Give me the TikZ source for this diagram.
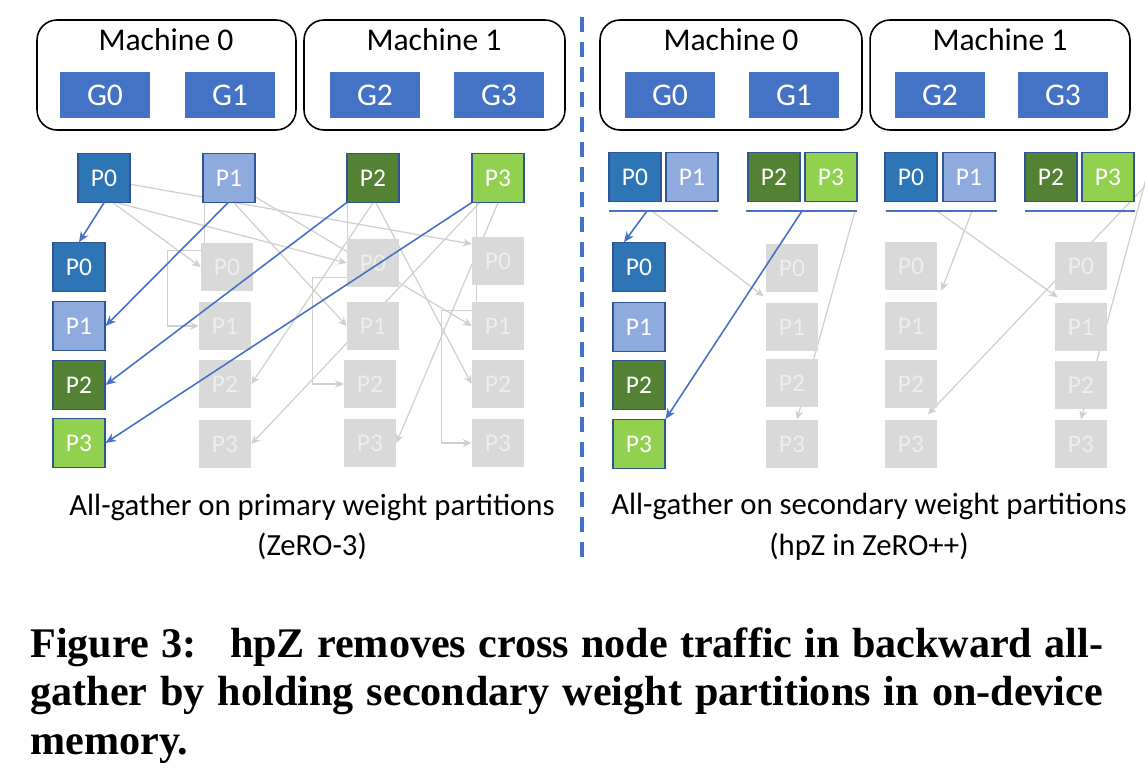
\documentclass[tikz,border=0pt]{standalone}
\usepackage{fontspec}
\setsansfont{Carlito}
\newfontfamily\capfont{Liberation Serif}
\usetikzlibrary{calc,arrows.meta}
\pgfdeclarelayer{bg}
\pgfsetlayers{bg,main}
\definecolor{gpublue}{HTML}{4472C4}
\definecolor{pzero}{HTML}{2E75B6}
\definecolor{pone}{HTML}{8FAADC}
\definecolor{ptwo}{HTML}{548235}
\definecolor{pthree}{HTML}{92D050}
\definecolor{pedge}{HTML}{2F5597}
\definecolor{ghost}{HTML}{D9D9D9}
\definecolor{ghosttext}{HTML}{EEEEEE}
\definecolor{linegray}{HTML}{CFCFCF}

\begin{document}
\begin{tikzpicture}[x=0.02cm, y=-0.02cm, font=\sffamily,
	machine/.style={draw, rounded corners=0.4cm, line width=0.9pt, minimum height=2.2cm, inner sep=0},
	mlabel/.style={font=\sffamily\fontsize{18}{18}\selectfont, inner sep=0},
	gpu/.style={fill=gpublue, text=white, minimum width=1.8cm, minimum height=0.94cm, inner sep=0, font=\sffamily\fontsize{18}{18}\selectfont},
	part/.style={draw=pedge, line width=0.6pt, text=white, minimum width=1.04cm, minimum height=0.97cm, inner sep=0, font=\sffamily\fontsize{14.5}{14.5}\selectfont},
	pa/.style={part, fill=pzero},
	pb/.style={part, fill=pone},
	pc/.style={part, fill=ptwo},
	pd/.style={part, fill=pthree},
	shade/.style={fill=ghost, text=ghosttext, minimum width=1.04cm, minimum height=0.97cm, inner sep=0, font=\sffamily\fontsize{14.5}{14.5}\selectfont},
	bluesend/.style={gpublue, line width=0.9pt, -{Stealth[length=6pt,width=5pt]}},
	graysend/.style={linegray, line width=0.7pt, -{Stealth[length=5pt,width=4.5pt]}},
	uline/.style={gpublue, line width=0.9pt},
	subcap/.style={align=center, inner sep=0, font=\sffamily\fontsize{17.5}{23}\selectfont}
	]
	\useasboundingbox (0,0) rectangle (1145,770);
	
	% machines, left half
	\node[machine, minimum width=5.18cm] (lm0) at (166.5,75) {};
	\node[machine, minimum width=5.22cm] (lm1) at (434.5,75) {};
	\node[mlabel] (lm0t) at (166,40) {Machine 0};
	\node[mlabel] (lm1t) at (434,40) {Machine 1};
	\node[gpu] (lg0) at (105,95) {G0};
	\node[gpu] (lg1) at (230,95) {G1};
	\node[gpu] (lg2) at (375,95) {G2};
	\node[gpu] (lg3) at (499,95) {G3};
	
	% machines, right half
	\node[machine, minimum width=5.24cm] (rm0) at (731,75) {};
	\node[machine, minimum width=5.2cm] (rm1) at (1000,75) {};
	\node[mlabel] (rm0t) at (731,40) {Machine 0};
	\node[mlabel] (rm1t) at (1000,40) {Machine 1};
	\node[gpu] (rg0) at (670,95) {G0};
	\node[gpu] (rg1) at (794,95) {G1};
	\node[gpu] (rg2) at (940,95) {G2};
	\node[gpu] (rg3) at (1063,95) {G3};
	
	% primary partitions
	\node[pa] (lt0) at (104,178) {P0};
	\node[pb] (lt1) at (229,178) {P1};
	\node[pc] (lt2) at (373,178) {P2};
	\node[pd] (lt3) at (498,178) {P3};
	
	\node[pa] (l00) at (79,267) {P0};
	\node[pb] (l01) at (79,326) {P1};
	\node[pc] (l02) at (79,385) {P2};
	\node[pd] (l03) at (79,443) {P3};
	\node[shade] (l10) at (227,267) {P0};
	\node[shade] (l11) at (225,326) {P1};
	\node[shade] (l12) at (225,384) {P2};
	\node[shade] (l13) at (225,444) {P3};
	\node[shade] (l20) at (373,263) {P0};
	\node[shade] (l21) at (373,326) {P1};
	\node[shade] (l22) at (370,384) {P2};
	\node[shade] (l23) at (370,443) {P3};
	\node[shade] (l30) at (498,261) {P0};
	\node[shade] (l31) at (498,326) {P1};
	\node[shade] (l32) at (498,384) {P2};
	\node[shade] (l33) at (498,443) {P3};
	
	% secondary partitions
	\node[pa] (ra0) at (635,177) {P0};
	\node[pb] (ra1) at (692,177) {P1};
	\node[pc] (ra2) at (774,177) {P2};
	\node[pd] (ra3) at (831,177) {P3};
	\node[pa] (rb0) at (911,177) {P0};
	\node[pb] (rb1) at (969,177) {P1};
	\node[pc] (rb2) at (1051,177) {P2};
	\node[pd] (rb3) at (1108,177) {P3};
	\coordinate (ua0) at (609,211); \coordinate (ua1) at (718,211);
	\coordinate (ub0) at (746,211); \coordinate (ub1) at (857,211);
	\coordinate (uc0) at (886,211); \coordinate (uc1) at (997,211);
	\coordinate (ud0) at (1025,211); \coordinate (ud1) at (1135,211);
	\draw[uline] (ua0) -- (ua1);
	\draw[uline] (ub0) -- (ub1);
	\draw[uline] (uc0) -- (uc1);
	\draw[uline] (ud0) -- (ud1);
	
	\node[pa] (r00) at (639,267) {P0};
	\node[pb] (r01) at (639,327) {P1};
	\node[pc] (r02) at (639,385) {P2};
	\node[pd] (r03) at (639,444) {P3};
	\node[shade] (r10) at (792,268) {P0};
	\node[shade] (r11) at (792,327) {P1};
	\node[shade] (r12) at (792,383) {P2};
	\node[shade] (r13) at (792,444) {P3};
	\node[shade] (r20) at (911,266) {P0};
	\node[shade] (r21) at (911,326) {P1};
	\node[shade] (r22) at (911,384) {P2};
	\node[shade] (r23) at (911,444) {P3};
	\node[shade] (r30) at (1081,266) {P0};
	\node[shade] (r31) at (1081,327) {P1};
	\node[shade] (r32) at (1081,385) {P2};
	\node[shade] (r33) at (1081,444) {P3};
	
	% divider
	\coordinate (dv0) at (582,17);
	\coordinate (dv1) at (582,562);
	\draw[gpublue, line width=2pt, dash pattern=on 0.3cm off 0.2cm] (dv0) -- (dv1);
	
	% grey traffic, behind the boxes
	\begin{pgfonlayer}{bg}
	\draw[graysend] ($(lt0.east)+(-8,5)$) -- ($(l30.west)+(0,-17)$);
	\draw[graysend] ($(lt0.south)+(9,0)$) -- (l10.west);
	\draw[graysend] ($(lt0.south)+(13,0)$) -- (l20.west);
	\draw[graysend] ($(lt1.south west)+(2,0)$) -- ++(0,48) -- ++(-37,0) |- (l11.west);
	\draw[graysend] ($(lt1.south)+(5,0)$) -- (l21.west);
	\draw[graysend] ($(lt1.east)+(0,19)$) -- (l31.west);
	\draw[graysend] (lt2.south) -- (l12.east);
	\draw[graysend] ($(lt2.south west)+(1,0)$) -- ++(0,75) -- ++(-35,0) |- (l22.west);
	\draw[graysend] ($(lt2.south)+(3,0)$) -- (l32.west);
	\draw[graysend] ($(lt3.south west)+(8,0)$) -- (l13.east);
	\draw[graysend] (lt3.south) -- (l23.east);
	\draw[graysend] ($(lt3.south west)+(5,0)$) -- ++(0,108) -- ++(-35,0) |- (l33.west);
	
	\coordinate (xa) at (1150,181);
	\coordinate (xb) at (1147,175);
	\draw[graysend] ($(ua0)+(43,0)$) -- ($(r11.north west)+(-2,-6)$);
	\draw[graysend] ($(ub1)+(-2,0)$) -- ($(r13.north)+(5,0)$);
	\draw[graysend] ($(uc0)+(86,0)$) -- ($(r20.south east)+(4,0)$);
	\draw[graysend] ($(uc0)+(51,0)$) -- ($(r31.north west)+(3,-5)$);
	\draw[graysend] (xa) -- ($(r23.north)+(17,-5)$);
	\draw[graysend] (xb) -- (r33.north);
	\end{pgfonlayer}
	
	% blue traffic
	\draw[bluesend] (lt0.south) -- (l00.north);
	\draw[bluesend] ($(lt1.south)+(-1,0)$) -- (l01.east);
	\draw[bluesend] (lt2.south west) -- (l02.east);
	\draw[bluesend] (lt3.south west) -- (l03.east);
	\draw[bluesend] ($(ua0)+(38,0)$) -- ($(r00.north)+(-15,0)$);
	\draw[bluesend] ($(ub0)+(56,0)$) -- (r03.north east);
	
	% captions
	\node[subcap] (capl) at (312,527) {All-gather on primary weight partitions\\(ZeRO-3)};
	\node[subcap] (capr) at (869,527) {All-gather on secondary weight partitions\\(hpZ in ZeRO++)};
	\node[anchor=north west, inner sep=0, text width=21.46cm, align=justify,
	font=\capfont\bfseries\fontsize{24}{27.8}\selectfont] (figcap) at (30,627)
	{Figure 3:\hspace{0.8em}hpZ removes cross node traffic in backward all-\linebreak gather by holding secondary weight partitions in on-device\linebreak memory.};
\end{tikzpicture}
\end{document}
